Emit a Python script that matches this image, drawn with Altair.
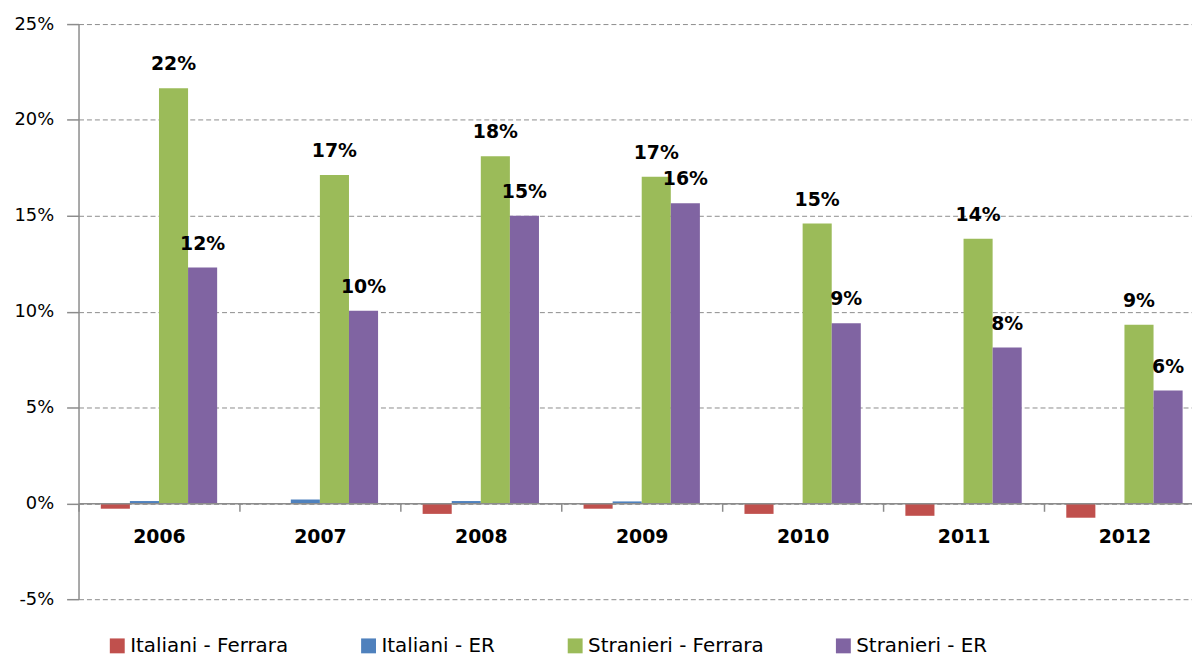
import altair as alt
import pandas as pd

years = ["2006", "2007", "2008", "2009", "2010", "2011", "2012"]
series = ["Italiani - Ferrara", "Italiani - ER", "Stranieri - Ferrara", "Stranieri - ER"]
colors = ["#C0504D", "#4F81BD", "#9BBB59", "#8064A2"]

italiani_ferrara = [-0.28, -0.03, -0.55, -0.28, -0.55, -0.65, -0.75]
italiani_er = [0.12, 0.20, 0.12, 0.10, -0.02, -0.02, -0.03]
stranieri_ferrara = [21.65, 17.13, 18.10, 17.03, 14.60, 13.80, 9.31]
stranieri_er = [12.30, 10.05, 15.00, 15.66, 9.40, 8.13, 5.88]

rows = []
for s, vals in zip(series, [italiani_ferrara, italiani_er, stranieri_ferrara, stranieri_er]):
    for y, v in zip(years, vals):
        rows.append({"anno": y, "serie": s, "valore": v})
df = pd.DataFrame(rows)

FONT = "DejaVu Sans"
STEP = 162
HALF_STEP = STEP / 2

x_enc = alt.X(
    "anno:N",
    sort=years,
    title=None,
    scale=alt.Scale(paddingInner=0.277, paddingOuter=0.1385),
    axis=alt.Axis(
        orient="bottom",
        offset=-96.5,
        tickOffset=-HALF_STEP,
        labelOffset=HALF_STEP,
        labelAngle=0,
        labelFont=FONT,
        labelFontSize=19,
        labelFontWeight="bold",
        labelColor="#000000",
        labelPadding=16,
        tickSize=8,
        tickColor="#8c8c8c",
        tickWidth=1.5,
        domainColor="#8c8c8c",
        domainWidth=1.5,
        grid=False,
        zindex=2,
    ),
)
xoff_enc = alt.XOffset("serie:N", sort=series, scale=alt.Scale(paddingInner=0, paddingOuter=0))
y_enc = alt.Y(
    "valore:Q",
    title=None,
    scale=alt.Scale(domain=[-5, 25], nice=False, zero=False),
    axis=alt.Axis(
        values=[-5, 0, 5, 10, 15, 20, 25],
        labelExpr="datum.value + '%'",
        labelFont=FONT,
        labelFontSize=18,
        labelColor="#000000",
        labelPadding=13,
        tickSize=12,
        tickColor="#8c8c8c",
        tickWidth=1.5,
        domainColor="#8c8c8c",
        domainWidth=1.5,
        grid=True,
        gridColor="#8c8c8c",
        gridDash=[5, 3],
        gridWidth=1,
    ),
)

base = alt.Chart(df).encode(x=x_enc, xOffset=xoff_enc, y=y_enc)

bars = base.mark_bar().encode(
    color=alt.Color(
        "serie:N",
        sort=series,
        scale=alt.Scale(domain=series, range=colors),
        legend=alt.Legend(
            title=None,
            orient="none",
            direction="horizontal",
            columns=4,
            legendX=29,
            legendY=616,
            padding=0,
            symbolType="square",
            symbolSize=225,
            symbolStrokeWidth=0,
            symbolOpacity=1,
            labelFont=FONT,
            labelFontSize=20,
            labelColor="#000000",
            labelOffset=3,
            columnPadding=70,
            labelLimit=400,
        ),
    ),
)

labels = (
    base.transform_filter(alt.FieldOneOfPredicate(field="serie", oneOf=series[2:]))
    .transform_calculate(etichetta="format(datum.valore, '.0f') + '%'")
    .mark_text(font=FONT, fontSize=19, fontWeight="bold", color="#000000", baseline="alphabetic", dy=-18)
    .encode(text="etichetta:N")
)

chart = (
    alt.layer(bars, labels)
    .properties(
        width=STEP * 7,
        height=579,
        autosize=alt.AutoSizeParams(type="none"),
        padding={"left": 71, "top": 14, "right": -13, "bottom": 55},
        background="white",
    )
    .configure_view(strokeWidth=0)
)

chart.save("out.html", embed_options={"renderer": "svg", "actions": False})
